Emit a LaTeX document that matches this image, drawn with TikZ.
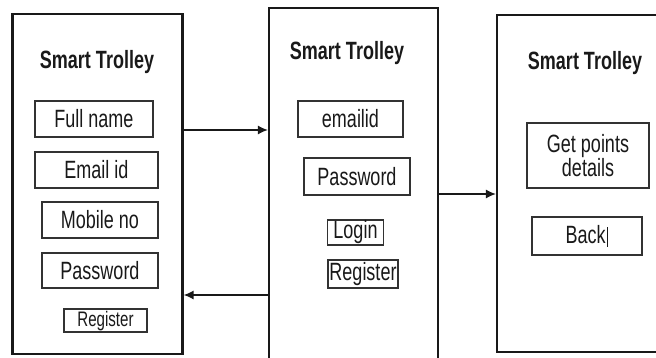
\documentclass[tikz,border=0pt]{standalone}
\usepackage{fontspec}
\setmainfont{Liberation Sans}[FakeStretch=0.72]
\usepackage{tikz}
\usetikzlibrary{arrows.meta, positioning}
\usepackage{xcolor}
\definecolor{ink}{RGB}{25,25,25}
\definecolor{edge}{RGB}{50,50,50}

\begin{document}
\begin{tikzpicture}[x=1pt, y=-1pt,
   every node/.style={font=\fontsize{25}{24}\selectfont, text=ink},
   panel/.style={draw=ink, line width=2.2pt, inner sep=0pt},
   heading/.style={font=\fontsize{25}{24}\selectfont\bfseries},
   field/.style={draw=edge, line width=1.4pt, inner sep=1pt, align=center},
   flow/.style={-{Latex[length=10pt, width=9pt]}, ink, line width=1.3pt}]
  \useasboundingbox (0,0) rectangle (656,358);
  \clip (0,0) rectangle (656,358);

  % sign-up screen
  \node[panel, minimum width=170, minimum height=340] (signup) at (97.5,184) {};
  \node[heading] (titleA) at (97,62) {Smart Trolley};
  \node[field, minimum width=118, minimum height=36] (fullname) at (94,119) {Full name};
  \node[field, minimum width=123, minimum height=36] (email) at (96.5,170) {Email id};
  \node[field, minimum width=116, minimum height=36] (mobile) at (100,220) {Mobile no};
  \node[field, minimum width=116, minimum height=35] (passA) at (100,270.5) {Password};
  \node[field, minimum width=83, minimum height=23, text height=15pt, text depth=4pt,
        inner sep=0pt, font=\fontsize{21}{20}\selectfont] (regA) at (105.5,320.5) {Register};

  % login screen
  \node[panel, minimum width=169, minimum height=380] (login) at (353.5,198) {};
  \node[heading] (titleB) at (347,53) {Smart Trolley};
  \node[field, minimum width=105, minimum height=36] (mailid) at (350.5,119) {emailid};
  \node[field, minimum width=106, minimum height=37] (passB) at (357,176.5) {Password};
  \node[field, minimum width=56, minimum height=25, inner sep=0pt] (btnlogin) at (355.5,232.5) {Login};
  \node[field, minimum width=70, minimum height=28, inner sep=0pt] (regB) at (363,274) {Register};

  % points screen
  \node[panel, minimum width=180, minimum height=337] (points) at (587,183.5) {};
  \node[heading] (titleC) at (585,63) {Smart Trolley};
  \node[field, minimum width=122, minimum height=65] (getpts) at (588,155.5) {Get points\\details};
  \node[field, minimum width=110, minimum height=38] (back) at (587,236)
       {Back\kern1pt\rule[-3pt]{1.6pt}{20pt}};

  \coordinate (fwdA) at (0,130);
  \coordinate (fwdB) at (0,194);
  \coordinate (bwd) at (0,295);
  \draw[flow] (signup.east |- fwdA) -- (login.west |- fwdA);
  \draw[flow] (login.west |- bwd) -- (signup.east |- bwd);
  \draw[flow] (login.east |- fwdB) -- (points.west |- fwdB);
\end{tikzpicture}
\end{document}
